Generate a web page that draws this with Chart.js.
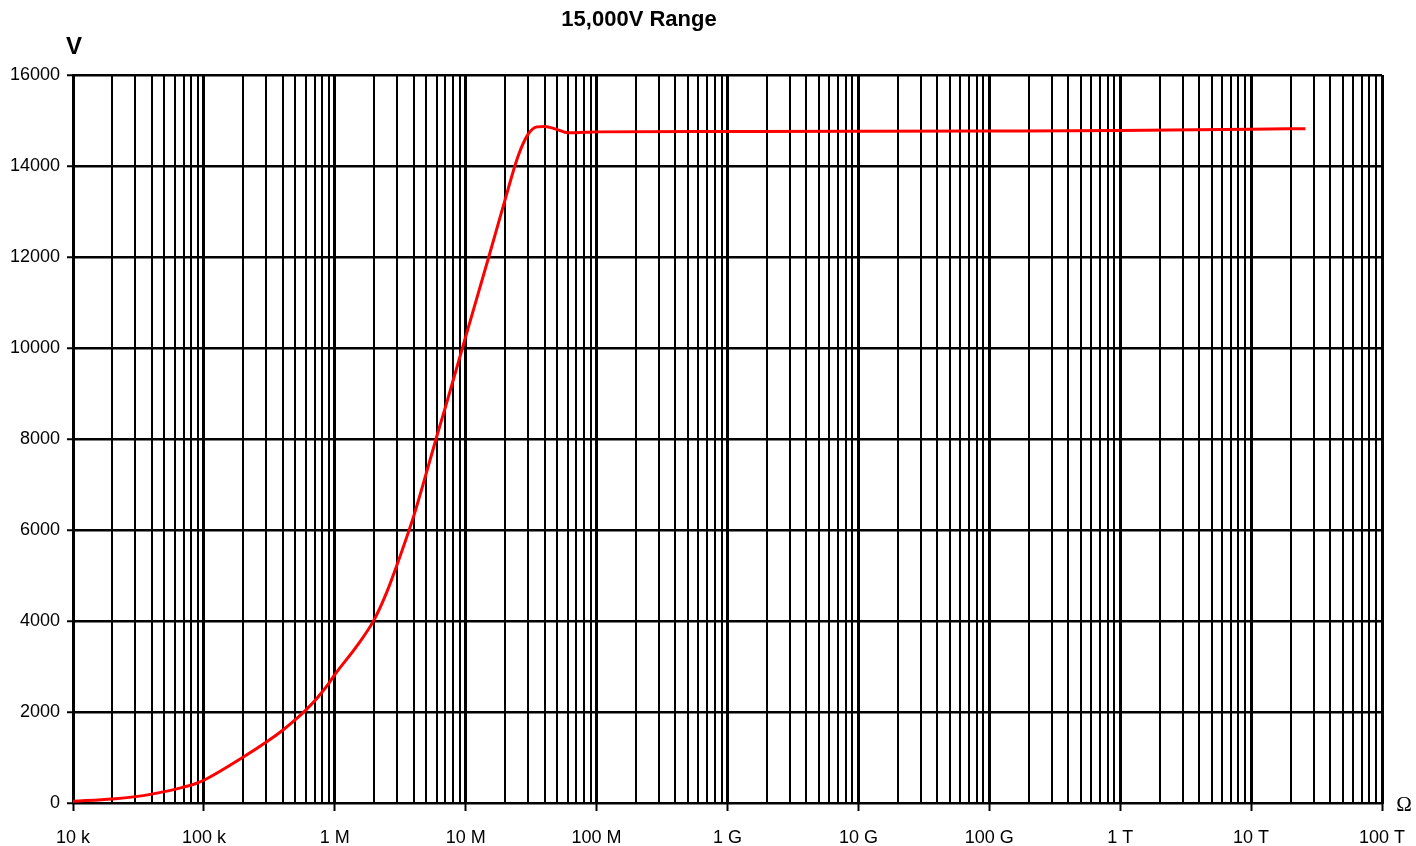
<!DOCTYPE html>
<html lang="en">
<head>
  <meta charset="UTF-8" />
  <title>15,000V Range</title>
  <script src="https://cdn.jsdelivr.net/npm/chart.js"></script>
  <style>
    html, body {
      margin: 0;
      padding: 0;
      background: #fff;
    }
    #wrap {
      width: 1416px;
      height: 846px;
    }
  </style>
</head>
<body>
  <div id="wrap"><canvas id="rangeChart"></canvas></div>

  <script>
    // resistance (ohm) vs output voltage (V)
    const resistance = [1e4, 2e4, 3e4, 4e4, 5e4, 6e4, 7e4, 8e4, 9e4, 1e5, 2e5, 3e5, 4e5, 5e5, 6e5, 7e5, 8e5, 9e5,
      1e6, 1.5e6, 2e6, 2.5e6, 3e6, 4e6, 5e6, 6e6, 7e6, 8e6, 1e7, 1.5e7, 2e7, 2.5e7, 3e7, 3.5e7,
      4e7, 5e7, 6e7, 8e7, 1e8, 1e9, 1e10, 1e11, 1e12, 1e13, 2.6e13];
    const voltage = [40, 90, 140, 195, 250, 300, 350, 395, 445, 500, 1010, 1340, 1600, 1830, 2040, 2240, 2440, 2630,
      2820, 3480, 4030, 4640, 5250, 6300, 7250, 8050, 8700, 9280, 10250, 12000, 13260, 14200, 14700, 14860,
      14870, 14800, 14730, 14740, 14750, 14760, 14765, 14770, 14780, 14810, 14820];

    const decadeLabels = ['10 k', '100 k', '1 M', '10 M', '100 M', '1 G', '10 G', '100 G', '1 T', '10 T', '100 T'];
    const yTicks = [0, 2000, 4000, 6000, 8000, 10000, 12000, 14000, 16000];

    const FONT = '"Liberation Sans", Arial, sans-serif';

    function isDecade(v) {
      const e = Math.round(Math.log10(v));
      return Math.abs(v / Math.pow(10, e) - 1) < 1e-6;
    }

    const textPlugin = {
      id: 'extraText',
      afterDraw(chart) {
        const c = chart.ctx;
        c.save();
        c.fillStyle = '#000';
        c.textAlign = 'center';
        c.textBaseline = 'middle';
        c.font = 'bold 22px ' + FONT;
        c.fillText('15,000V Range', 639, 20);
        c.font = 'bold 24px ' + FONT;
        c.fillText('V', 74, 47);
        c.font = '21px "Liberation Serif", "DejaVu Serif", serif';
        c.fillText('Ω', 1404, 805);
        c.restore();
      }
    };

    const points = resistance.map((r, i) => ({ x: r, y: voltage[i] }));

    new Chart(document.getElementById('rangeChart'), {
      type: 'line',
      data: {
        datasets: [{
          data: points,
          borderColor: '#ff0000',
          borderWidth: 3,
          pointRadius: 0,
          fill: false,
          cubicInterpolationMode: 'monotone',
          parsing: false
        }]
      },
      options: {
        responsive: true,
        maintainAspectRatio: false,
        animation: false,
        layout: { padding: { top: 75, right: 34, left: 0, bottom: 0 } },
        plugins: { legend: { display: false }, tooltip: { enabled: false } },
        scales: {
          x: {
            type: 'logarithmic',
            min: 1e4,
            max: 1e14,
            afterBuildTicks(scale) {
              const t = [];
              for (let e = 4; e < 14; e++) {
                for (let s = 1; s <= 9; s++) t.push({ value: s * Math.pow(10, e), major: s === 1 });
              }
              t.push({ value: 1e14, major: true });
              scale.ticks = t;
            },
            afterFit(scale) {
              scale.height = 43;
              scale.paddingLeft = 0;
              scale.paddingRight = 0;
            },
            ticks: {
              autoSkip: false,
              maxRotation: 0,
              padding: 16,
              color: '#000',
              font: { family: FONT, size: 18 },
              callback(value) {
                if (!isDecade(value)) return '';
                return decadeLabels[Math.round(Math.log10(value)) - 4];
              }
            },
            grid: {
              color: '#000',
              lineWidth: (ctx) => (ctx.tick && ctx.tick.major ? 3 : 2),
              tickLength: 8,
              tickWidth: 2,
              tickColor: (ctx) => (ctx.tick && ctx.tick.major ? '#000' : 'rgba(0,0,0,0)')
            },
            border: { color: '#000', width: 2 }
          },
          y: {
            min: 0,
            max: 16000,
            afterBuildTicks(scale) {
              scale.ticks = yTicks.map(v => ({ value: v }));
            },
            afterFit(scale) { scale.width = 73; },
            ticks: {
              padding: 7,
              color: '#000',
              font: { family: FONT, size: 18 },
              callback: (v) => String(v)
            },
            grid: {
              color: '#000',
              lineWidth: 2.5,
              tickLength: 6,
              tickWidth: 2
            },
            border: { color: '#000', width: 2 }
          }
        }
      },
      plugins: [textPlugin]
    });
  </script>
</body>
</html>
